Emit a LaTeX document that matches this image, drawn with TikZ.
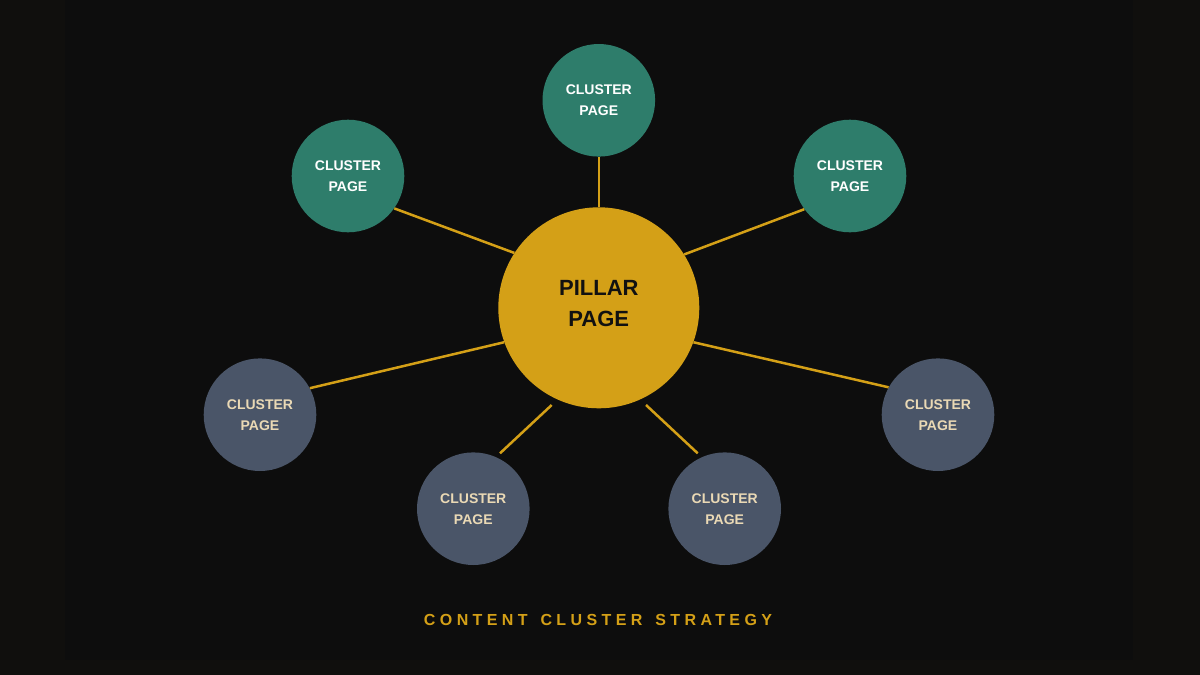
\documentclass[tikz,border=0pt]{standalone}
\usepackage{fontspec}
\setmainfont{Liberation Sans}
\usetikzlibrary{calc}
\definecolor{outerbg}{HTML}{100F0D}
\definecolor{innerbg}{HTML}{0D0D0D}
\definecolor{gold}{HTML}{D4A017}
\definecolor{teal}{HTML}{2E7D6B}
\definecolor{slate}{HTML}{4A5568}
\definecolor{beige}{HTML}{EAD9B5}
\definecolor{ink}{HTML}{111111}
\tikzset{
  pillarbox/.style={circle, fill=gold, inner sep=0pt, minimum size=201pt},
  pillartext/.style={inner sep=0pt, align=center, text=ink, font=\fontsize{22}{31}\selectfont\bfseries},
  greenbox/.style={circle, fill=teal, inner sep=0pt, minimum size=112.6pt, align=center, text=white, font=\fontsize{14}{21}\selectfont\bfseries},
  slatebox/.style={circle, fill=slate, inner sep=0pt, minimum size=112.6pt, align=center, text=beige, font=\fontsize{14}{21}\selectfont\bfseries},
  link/.style={draw=gold, line width=2.5pt},
  captiontext/.style={inner sep=0pt, anchor=base, text=gold, font=\fontsize{16}{19}\selectfont\bfseries\addfontfeature{LetterSpace=27.5}}
}
\begin{document}
\begin{tikzpicture}[x=1pt,y=-1pt]
  \fill[outerbg] (0,0) rectangle (1200,675);
  \fill[innerbg] (65,0) rectangle (1133,660);
  \useasboundingbox (0,0) rectangle (1200,675);

  % nodes
  \node[pillarbox] (p) at (598.8,307.8) {};
  \node[greenbox] (t)  at (598.8,100.3) {CLUSTER\\PAGE};
  \node[greenbox] (ul) at (348,176) {CLUSTER\\PAGE};
  \node[greenbox] (ur) at (850,176) {CLUSTER\\PAGE};
  \node[slatebox] (l)  at (260,414.7) {CLUSTER\\PAGE};
  \node[slatebox] (r)  at (938,414.7) {CLUSTER\\PAGE};
  \node[slatebox] (bl) at (473.3,508.7) {CLUSTER\\PAGE};
  \node[slatebox] (br) at (724.7,508.7) {CLUSTER\\PAGE};
  \node[pillartext] (pt) at (598.8,303.5) {PILLAR\\PAGE};

  % free ends of the short lower links
  \coordinate (blA) at (551.7,405);
  \coordinate (blB) at (500,453.3);
  \coordinate (brA) at (646,405);
  \coordinate (brB) at (697.7,453.3);

  % connectors
  \draw[link] (p.90) -- (t.-90);
  \draw[link] (p.147.1) -- (ul.-35.5);
  \draw[link] (p.32.7) -- (ur.-144.8);
  \draw[link] (p.200.5) -- (l.28.9);
  \draw[link] (p.-20.1) -- (r.151.5);
  \draw[link] (blA) -- (blB);
  \draw[link] (brA) -- (brB);

  \node[captiontext] (cap) at (598,625.7) {CONTENT\hspace{4pt} CLUSTER\hspace{4pt} STRATEGY};
\end{tikzpicture}
\end{document}
